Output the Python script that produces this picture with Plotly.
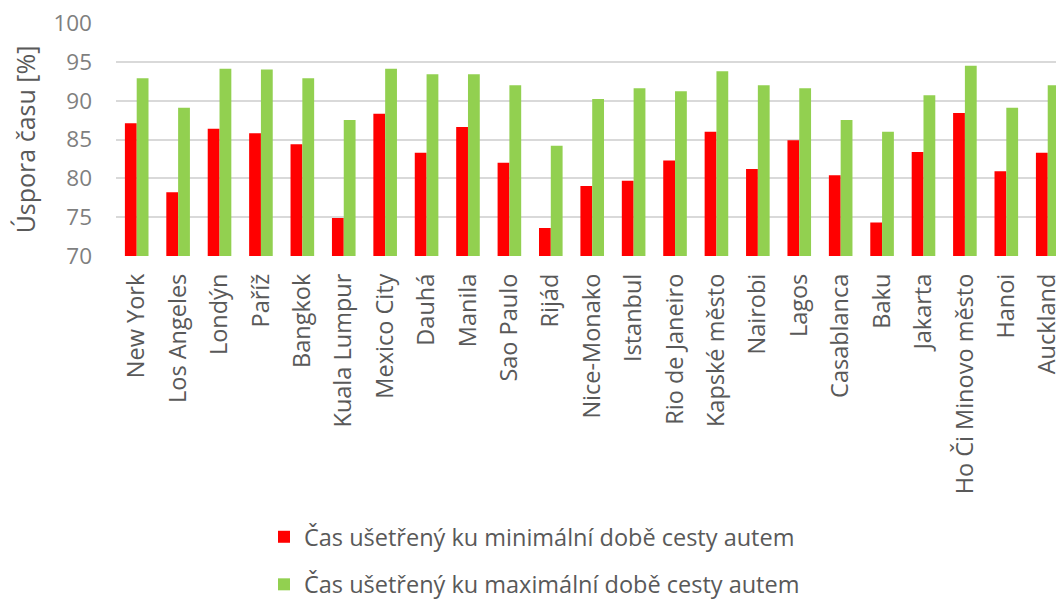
import plotly.graph_objects as go

# Cities and time savings (%) relative to minimum / maximum car travel time
cities = [
    "New York", "Los Angeles", "Londýn", "Paříž", "Bangkok", "Kuala Lumpur",
    "Mexico City", "Dauhá", "Manila", "Sao Paulo", "Rijád", "Nice-Monako",
    "Istanbul", "Rio de Janeiro", "Kapské město", "Nairobi", "Lagos",
    "Casablanca", "Baku", "Jakarta", "Ho Či Minovo město", "Hanoi", "Auckland",
]
saved_vs_min = [
    87.1, 78.2, 86.4, 85.8, 84.4, 74.9,
    88.3, 83.3, 86.6, 82.0, 73.6, 79.0,
    79.7, 82.3, 86.0, 81.2, 84.9,
    80.4, 74.3, 83.4, 88.4, 80.9, 83.3,
]
saved_vs_max = [
    92.9, 89.1, 94.1, 94.0, 92.9, 87.5,
    94.1, 93.4, 93.4, 92.0, 84.2, 90.2,
    91.6, 91.2, 93.8, 92.0, 91.6,
    87.5, 86.0, 90.7, 94.5, 89.1, 92.0,
]
y_ticks = [70, 75, 80, 85, 90, 95, 100]

series_names = [
    "Čas ušetřený ku minimální době cesty autem",
    "Čas ušetřený ku maximální době cesty autem",
]
FONT = "Open Sans"
TEXT_DARK = "#595959"
TEXT_LIGHT = "#7f7f7f"

W, H = 1056, 601
ML, MR, MT, MB = 116, 0, 23, 345
plot_w = W - ML - MR
plot_h = H - MT - MB

fig = go.Figure()
fig.add_trace(go.Bar(
    x=cities, y=saved_vs_min, name=series_names[0],
    marker=dict(color="#ff0000", line=dict(width=0)),
    legendgroup="a",
))
fig.add_trace(go.Bar(
    x=cities, y=saved_vs_max, name=series_names[1],
    marker=dict(color="#92d050", line=dict(width=0)),
    legendgroup="b",
))

fig.update_layout(
    width=W, height=H,
    margin=dict(l=ML, r=MR, t=MT, b=MB, autoexpand=False),
    paper_bgcolor="white", plot_bgcolor="white",
    barmode="group", bargap=0.43, bargroupgap=0,
    font=dict(family=FONT, color=TEXT_DARK, size=22),
    showlegend=True,
    legend=dict(
        x=(264 - ML) / plot_w, xanchor="left",
        y=(H - MB - 561) / plot_h, yanchor="middle",
        orientation="v", tracegroupgap=14,
        font=dict(family=FONT, size=23.5, color=TEXT_DARK),
        bgcolor="rgba(0,0,0,0)",
    ),
    xaxis=dict(
        type="category",
        range=[-0.5, 22.2],
        tickangle=-90,
        tickfont=dict(family=FONT, size=23.5, color=TEXT_DARK),
        ticklabelstandoff=12,
        showgrid=False, zeroline=False, showline=False, ticks="",
        automargin=False,
    ),
    yaxis=dict(
        range=[70, 100],
        tickvals=y_ticks,
        tickfont=dict(family=FONT, size=22.5, color=TEXT_LIGHT),
        ticklabelstandoff=23,
        showgrid=True, gridcolor="#d9d9d9", gridwidth=2,
        zeroline=False, showline=False, ticks="",
        title=dict(text="Úspora času [%]",
                   font=dict(family=FONT, size=25, color=TEXT_DARK),
                   standoff=10),
        automargin=False,
    ),
)

fig.write_html("out.html")
